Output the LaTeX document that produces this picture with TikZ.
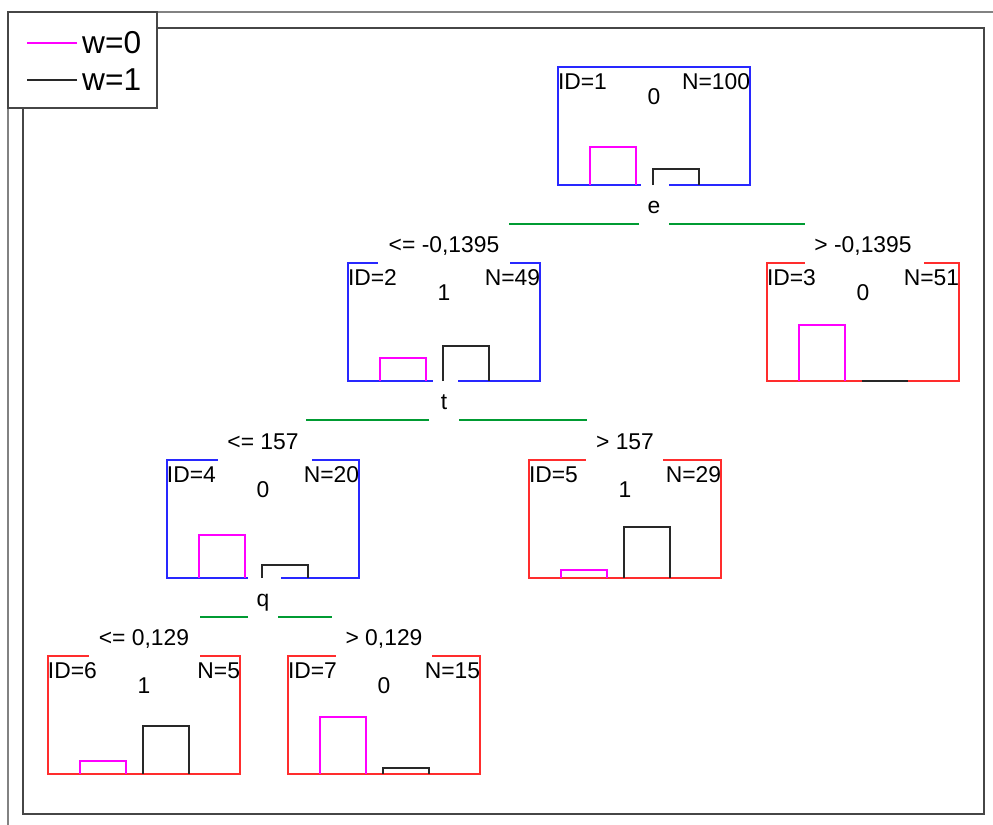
\documentclass[tikz,border=0pt]{standalone}
\usepackage{fontspec}
\setmainfont{Liberation Sans}
\usetikzlibrary{positioning}
\definecolor{NodeBlue}{RGB}{40, 40, 255}
\definecolor{NodeRed}{RGB}{255, 45, 45}
\definecolor{BarPink}{RGB}{255, 0, 255}
\definecolor{BarGray}{RGB}{40, 40, 40}
\definecolor{SplitGreen}{RGB}{0, 155, 50}
\definecolor{FrameGray}{RGB}{70, 70, 70}
\definecolor{OuterGray}{RGB}{130, 130, 130}

\begin{document}
\begin{tikzpicture}[
    x=0.03cm, y=-0.03cm,
    every node/.style={inner sep=0pt, font=\fontsize{19.5}{22}\selectfont},
    treebox/.style={rectangle, minimum width=5.76cm, minimum height=3.53cm},
    boxline/.style={line width=1.8pt},
    barline/.style={line width=1.6pt},
    splitline/.style={SplitGreen, line width=1.9pt},
    legtext/.style={font=\fontsize{27}{30}\selectfont, anchor=west}
  ]
    \useasboundingbox (0,0) rectangle (993,825);
    % outer border and plot frame
    \draw[OuterGray, line width=1.2pt] (8,825) -- (8,12) -- (993,12);
    \draw[FrameGray, line width=2pt] (23,28) rectangle (984,814);

    % legend
    \node[draw=FrameGray, line width=1.2pt, fill=white, minimum width=4.47cm, minimum height=2.88cm] (legend) at (82.5,60) {};
    \node[legtext] (w0) at (82,43) {w=0};
    \node[legtext] (w1) at (82,80) {w=1};
    \draw[BarPink, line width=1.2pt] (w0.west) ++(-5,0) -- ++(-50,0);
    \draw[BarGray, line width=1.2pt] (w1.west) ++(-5,0) -- ++(-50,0);

    % tree nodes: id/x/top/colour/class/N/top gaps/bottom gaps/bar heights
    \foreach \id/\cx/\ytop/\col/\cls/\nn/\tl/\tr/\gl/\gr/\mh/\bh in {
        1/654/67/NodeBlue/0/100/96/96/83/81/38/16,
        2/444/263/NodeBlue/1/49/30/30/85/82/23/35,
        3/863/263/NodeRed/0/51/38/35/96/96/56/0,
        4/263/460/NodeBlue/0/20/51/47/81/78/43/13,
        5/625/460/NodeRed/1/29/57/58/96/96/8/51,
        6/144/656/NodeRed/1/5/41/40/96/96/13/48,
        7/384/656/NodeRed/0/15/48/48/96/96/57/6}
    {
      \node[treebox] (b\id) at (\cx,\ytop+59) {};
      \draw[boxline, \col] (b\id.north west) ++(\tl,0) -- (b\id.north west) -- (b\id.south west) -- ++(\gl,0);
      \draw[boxline, \col] (b\id.north east) ++(-\tr,0) -- (b\id.north east) -- (b\id.south east) -- ++(-\gr,0);
      \draw[barline, BarPink] (b\id.south west) ++(32,0) -- ++(0,-\mh) -- ++(46,0) -- ++(0,\mh);
      \draw[barline, BarGray] (b\id.south west) ++(95,0) -- ++(0,-\bh) -- ++(46,0) -- ++(0,\bh);
      \node[anchor=north west] (id\id) at ([yshift=-0.2cm]b\id.north west) {ID=\id};
      \node[anchor=north east] (n\id) at ([yshift=-0.2cm]b\id.north east) {N=\nn};
      \node (c\id) at ([yshift=-0.9cm]b\id.north) {\cls};
    }

    % split variables
    \foreach \id/\var/\ll/\rr in {1/e/130/136, 2/t/123/128, 4/q/48/54}
    {
      \node[anchor=base] (s\id) at ([yshift=-0.84cm]b\id.south) {\var};
      \draw[splitline] (s\id.base) ++(-15,11) -- ++(-\ll,0);
      \draw[splitline] (s\id.base) ++(15,11) -- ++(\rr,0);
    }

    % branch conditions
    \foreach \id/\txt in {2/{<= -0,1395}, 3/{> -0,1395}, 4/{<= 157}, 5/{> 157}, 6/{<= 0,129}, 7/{> 0,129}}
      \node[anchor=base] (e\id) at ([yshift=0.3cm]b\id.north) {\txt};
\end{tikzpicture}
\end{document}
